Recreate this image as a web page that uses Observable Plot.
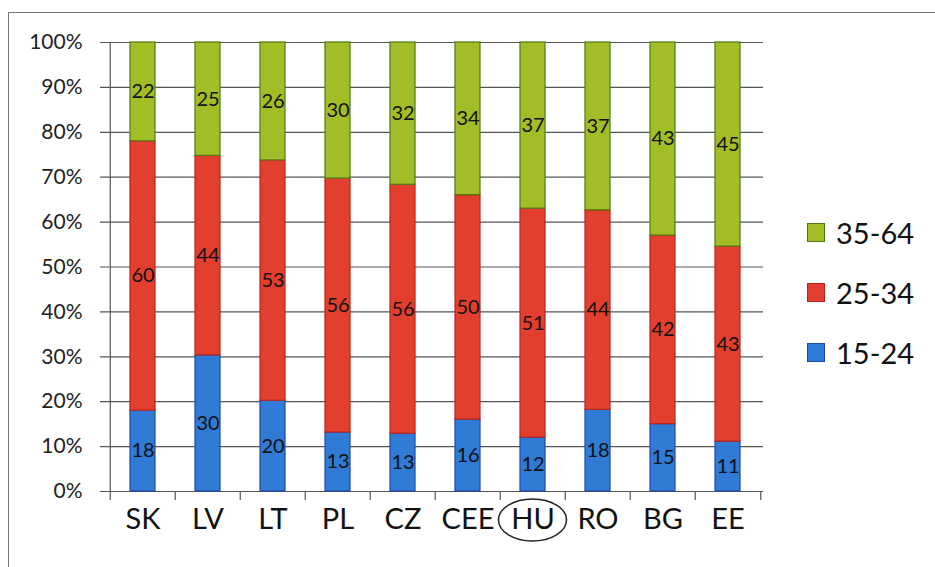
<!DOCTYPE html>
<html>
<head>
<meta charset="utf-8">
<script src="https://cdn.jsdelivr.net/npm/d3@7"></script>
<script src="https://cdn.jsdelivr.net/npm/@observablehq/plot@0.6"></script>
<style>
  html, body { margin: 0; padding: 0; background: #fff; }
  #wrap { position: relative; width: 935px; height: 567px; overflow: hidden; font-family: Lato, "Open Sans", sans-serif; }
  #frame { position: absolute; left: 8px; top: 12px; width: 940px; height: 570px; border: 1.5px solid #777; box-sizing: border-box; }
  #legend { position: absolute; left: 807px; top: 212px; }
  .item { display: flex; align-items: center; height: 40px; margin-bottom: 20px; }
  .sw { width: 18px; height: 19px; margin-right: 11px; box-sizing: border-box; border: 1px solid; }
  .lab { font-size: 29px; color: #111; }
  svg { position: absolute; left: 0; top: 0; }
</style>
</head>
<body>
<div id="wrap">
  <div id="frame"></div>
  <div id="legend"></div>
</div>
<script>
const countries = ["SK", "LV", "LT", "PL", "CZ", "CEE", "HU", "RO", "BG", "EE"];
const ages = ["15-24", "25-34", "35-64"];
const v15_24 = [18, 30, 20, 13, 13, 16, 12, 18, 15, 11];
const v25_34 = [60, 44, 53, 56, 56, 50, 51, 44, 42, 43];
const v35_64 = [22, 25, 26, 30, 32, 34, 37, 37, 43, 45];
const yTicks = [0, 0.1, 0.2, 0.3, 0.4, 0.5, 0.6, 0.7, 0.8, 0.9, 1];
const highlighted = "HU";

const fillColors = {"15-24": "#2f7bd6", "25-34": "#e23f2e", "35-64": "#a2bd26"};
const strokeColors = {"15-24": "#1f49a8", "25-34": "#b8241b", "35-64": "#4f7a14"};

const series = [v15_24, v25_34, v35_64];
const data = [];
countries.forEach((c, i) => ages.forEach((a, j) => data.push({country: c, age: a, value: series[j][i]})));

const W = 935, H = 567;
const mL = 108, mR = 172, mT = 42, mB = 76;
const step = (W - mL - mR) / countries.length;

const stackOpts = (extra) => Plot.stackY({x: "country", y: "value", z: "age", offset: "normalize", ...extra});

const chart = Plot.plot({
  width: W, height: H,
  marginLeft: mL, marginRight: mR, marginTop: mT, marginBottom: mB,
  style: {fontFamily: "Lato, 'Open Sans', sans-serif", background: "transparent"},
  x: {domain: countries, paddingInner: 0.61, paddingOuter: 0.305, label: null},
  y: {domain: [0, 1], label: null},
  marks: [
    Plot.ruleY(yTicks, {stroke: "#555", strokeWidth: 1.2, insetLeft: -8}),
    Plot.barY(data, stackOpts({
      fill: d => fillColors[d.age],
      stroke: d => strokeColors[d.age],
      strokeWidth: 1.2
    })),
    Plot.text(data, stackOpts({
      text: "value", fill: "#111", fontSize: 20, stroke: "none"
    })),
    Plot.ruleX([countries[0]], {x: d => d, dx: -step / 2, y1: 1, y2: 0, insetBottom: -9, stroke: "#555", strokeWidth: 1.2}),
    Plot.ruleX(countries.slice(1), {x: d => d, dx: -step / 2, y1: 0, y2: 0, insetBottom: -9, stroke: "#555", strokeWidth: 1.2}),
    Plot.ruleX([countries[countries.length - 1]], {x: d => d, dx: step / 2, y1: 0, y2: 0, insetBottom: -9, stroke: "#555", strokeWidth: 1.2}),
    Plot.axisY({ticks: yTicks, tickFormat: d3.format(".0%"), tickSize: 0, tickPadding: 26, fontSize: 21, fill: "#222"}),
    Plot.axisX({tickSize: 0, tickPadding: 17, fontSize: 29, fill: "#111"})
  ]
});

document.getElementById("wrap").appendChild(chart);

// circle around highlighted country label
const xs = chart.scale("x");
const cx = xs.apply(highlighted) + xs.bandwidth / 2;
d3.select(chart).append("ellipse")
  .attr("cx", cx).attr("cy", H - mB + 29)
  .attr("rx", 34).attr("ry", 21)
  .attr("fill", "none").attr("stroke", "#222").attr("stroke-width", 1.5);

// legend
const legend = d3.select("#legend");
[...ages].reverse().forEach(a => {
  const it = legend.append("div").attr("class", "item");
  it.append("div").attr("class", "sw").style("background", fillColors[a]).style("border-color", strokeColors[a]);
  it.append("div").attr("class", "lab").text(a);
});
</script>
</body>
</html>
